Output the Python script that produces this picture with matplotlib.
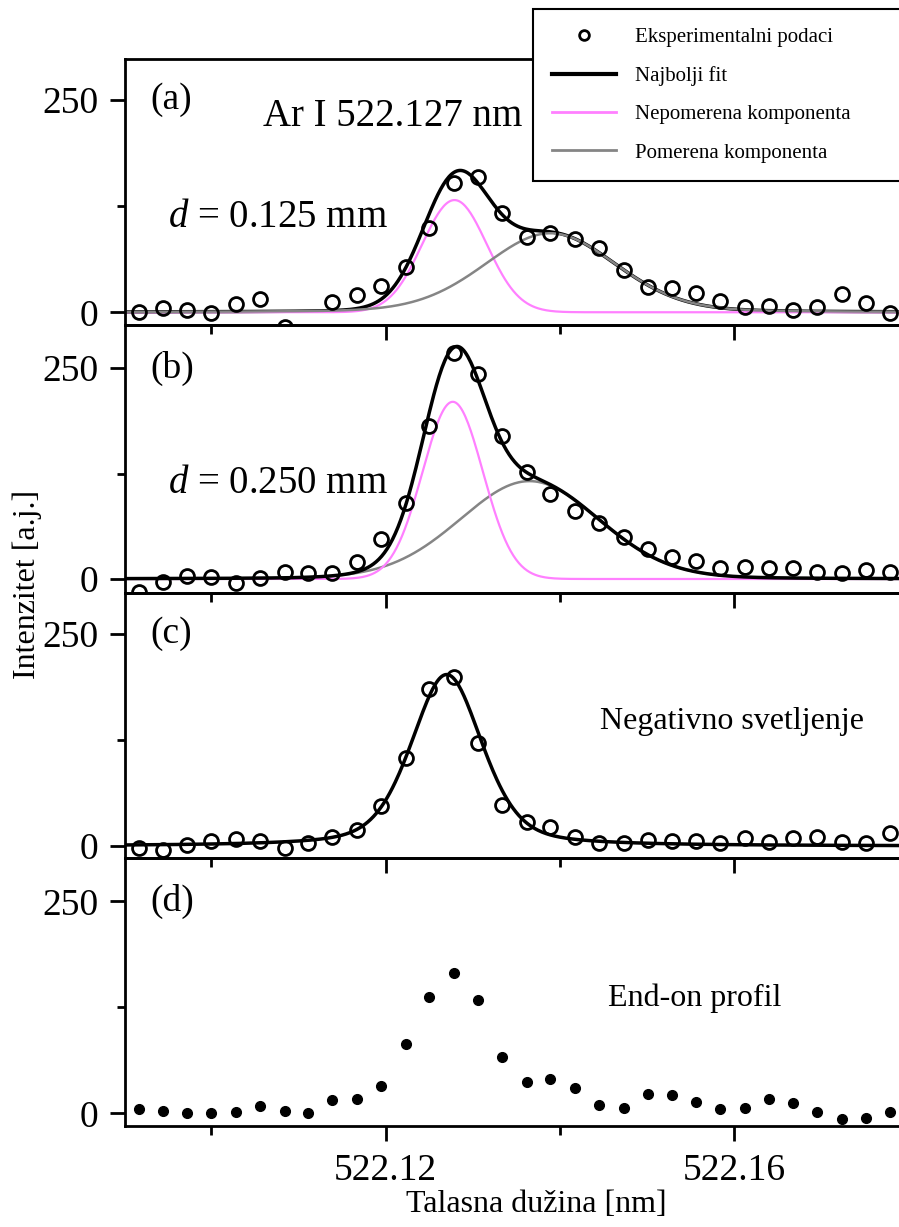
import numpy as np
import matplotlib.pyplot as plt
from matplotlib.lines import Line2D

plt.rcParams['font.family'] = ['Liberation Serif', 'DejaVu Serif']
plt.rcParams['mathtext.fontset'] = 'custom'
plt.rcParams['mathtext.rm'] = 'Liberation Serif'
plt.rcParams['mathtext.it'] = 'Liberation Serif:italic'

# wavelength grid of the measured points (nm)
wavelength = [522.0917, 522.0945, 522.0972, 522.1000, 522.1028, 522.1056, 522.1084, 522.1111,
              522.1139, 522.1167, 522.1195, 522.1223, 522.1250, 522.1278, 522.1306, 522.1334,
              522.1362, 522.1389, 522.1417, 522.1445, 522.1473, 522.1501, 522.1528, 522.1556,
              522.1584, 522.1612, 522.1640, 522.1667, 522.1695, 522.1723, 522.1751, 522.1779]

# measured intensities
int_a = [0.7, 4.7, 2.7, -0.4, 10.2, 16.1, -17, np.nan, 12.5, 20.4, 31, 53.7, 98.9, 152.6, 159.7, 116.6,
         88.3, 93, 86, 75.4, 49.8, 29.4, 28.3, 22.4, 13.7, 5.9, 7.4, 2.7, 5.9, 21.5, 10.6, -0.5]
int_b = [-15, -3.2, 3.5, 2, -5.1, 0.8, 8.7, 6.7, 6.7, 20.5, 47.3, 90.3, 181, 268, 243, 169,
         127, 101, 80.8, 65.9, 49.3, 35.1, 26.4, 21.7, 12.7, 13.8, 12.7, 12.7, 8.7, 7.5, 10.6, 8.7]
int_c = [-2.7, -4.7, 1.2, 6.3, 7.9, 6.3, -2.7, 3.9, 10.2, 18.9, 47.2, 103.4, 184.8, 198.9, 121, 48.3,
         28.7, 22, 11, 3.2, 3.2, 7.1, 6.3, 6.3, 3.9, 9, 5.1, 9, 11, 5.1, 3.9, 15]
int_d = [4.7, 3.1, 0, 0, 1.9, 8.7, 3.1, 0.8, 15.7, 16.5, 32.3, 81.5, 137, 165.4, 133.9, 66.9,
         36.6, 40.2, 30.3, 9.8, 5.9, 22.8, 21.6, 13, 5.1, 5.9, 16.5, 11.8, 1.9, -7.1, -5.9, 1.2]

# fit components: center, amplitude, HWHM, lorentz fraction
fit_a_unshifted = [522.1279, 132, 0.00436, 0.0]
fit_a_shifted = [522.1389, 93, 0.0089, 0.15]
fit_b_unshifted = [522.1277, 210, 0.00407, 0.0]
fit_b_shifted = [522.1365, 116, 0.00946, 0.1]
fit_c = [522.1270, 202, 0.00482, 0.4]


def profile(x, p):
    c, a, w, eta = p
    u = (x - c) / w
    return a * (eta / (1 + u**2) + (1 - eta) * np.exp(-np.log(2) * u**2))


W, H = 899, 1227
fig = plt.figure(figsize=(W / 100, H / 100), dpi=100)
left_px, right_px = 125, 947
bounds = [(59, 325), (325, 593), (593, 858), (858, 1126)]
ylims = [(-15, 298), (-16.6, 301), (-14, 298), (-15, 301)]
xlim = (522.0901, 522.1844)
xf = np.linspace(xlim[0], xlim[1], 600)

pink = '#ff80ff'
gray = '#858585'

axes = []
for (top, bot), yl in zip(bounds, ylims):
    ax = fig.add_axes([left_px / W, 1 - bot / H, (right_px - left_px) / W, (bot - top) / H])
    ax.set_facecolor('none')
    ax.set_xlim(xlim)
    ax.set_ylim(yl)
    ax.spines['right'].set_visible(False)
    for s in ['left', 'bottom', 'top']:
        ax.spines[s].set_linewidth(2)
    ax.set_yticks([0, 250])
    ax.set_yticklabels(['0', '250'])
    ax.set_yticks([125], minor=True)
    ax.set_xticks([522.12, 522.16])
    ax.set_xticks([522.10, 522.14, 522.18], minor=True)
    ax.tick_params(axis='both', which='both', direction='out', width=2, labelsize=27)
    ax.tick_params(axis='y', which='major', length=11, pad=8)
    ax.tick_params(axis='y', which='minor', length=6)
    ax.tick_params(axis='x', which='major', length=11, pad=9)
    ax.tick_params(axis='x', which='minor', length=6.5)
    ax.tick_params(axis='x', labelbottom=False)
    axes.append(ax)

ax_a, ax_b, ax_c, ax_d = axes
ax_d.tick_params(axis='x', labelbottom=True)
ax_d.set_xticklabels(['522.12', '522.16'])

circ = dict(ls='none', marker='o', ms=10, mfc='none', mec='black', mew=2)

# (a)
ax_a.plot(xf, profile(xf, fit_a_unshifted) + profile(xf, fit_a_shifted), color='black', lw=2.5)
ax_a.plot(xf, profile(xf, fit_a_unshifted), color=pink, lw=1.6)
ax_a.plot(xf, profile(xf, fit_a_shifted), color=gray, lw=1.8)
ax_a.plot(wavelength, int_a, **circ)
ax_a.text(522.0930, 250, '(a)', fontsize=27, va='center')
ax_a.text(522.1059, 230, 'Ar I 522.127 nm', fontsize=28, va='center')
ax_a.text(522.0950, 112, r'$d$ = 0.125 mm', fontsize=28, va='center')

# (b)
ax_b.plot(xf, profile(xf, fit_b_shifted), color=gray, lw=1.8)
ax_b.plot(xf, profile(xf, fit_b_unshifted), color=pink, lw=1.6)
ax_b.plot(xf, profile(xf, fit_b_unshifted) + profile(xf, fit_b_shifted), color='black', lw=2.5)
ax_b.plot(wavelength, int_b, **circ)
ax_b.text(522.0930, 250, '(b)', fontsize=27, va='center')
ax_b.text(522.0950, 113, r'$d$ = 0.250 mm', fontsize=28, va='center')

# (c)
ax_c.plot(xf, profile(xf, fit_c), color='black', lw=2.5)
ax_c.plot(wavelength, int_c, **circ)
ax_c.text(522.0930, 250, '(c)', fontsize=27, va='center')
ax_c.text(522.1446, 147, 'Negativno svetljenje', fontsize=23, va='center')

# (d)
ax_d.plot(wavelength, int_d, ls='none', marker='o', ms=7, color='black')
ax_d.text(522.0930, 250, '(d)', fontsize=27, va='center')
ax_d.text(522.1455, 136, 'End-on profil', fontsize=23, va='center')

fig.text(536 / W, 1 - 1204 / H, 'Talasna dužina [nm]', ha='center', va='center', fontsize=23)
fig.text(27 / W, 1 - 584 / H, 'Intenzitet [a.j.]', rotation=90, ha='center', va='center', fontsize=23)

handles = [Line2D([], [], ls='none', marker='o', ms=7, mfc='none', mec='black', mew=2),
           Line2D([], [], color='black', lw=3),
           Line2D([], [], color=pink, lw=2),
           Line2D([], [], color=gray, lw=2)]
labels = ['Eksperimentalni podaci', 'Najbolji fit', 'Nepomerena komponenta', 'Pomerena komponenta']
leg = fig.legend(handles, labels, loc='upper left', mode='expand',
                 bbox_to_anchor=(533 / W, 1 - 179 / H, 430 / W, 170 / H), borderaxespad=0,
                 fontsize=15, frameon=True, fancybox=False, framealpha=1, edgecolor='black',
                 borderpad=0.9, labelspacing=0.9, handlelength=3.1, handletextpad=0.9)
leg.get_frame().set_linewidth(1.5)

fig.savefig('out.png', dpi=100)
